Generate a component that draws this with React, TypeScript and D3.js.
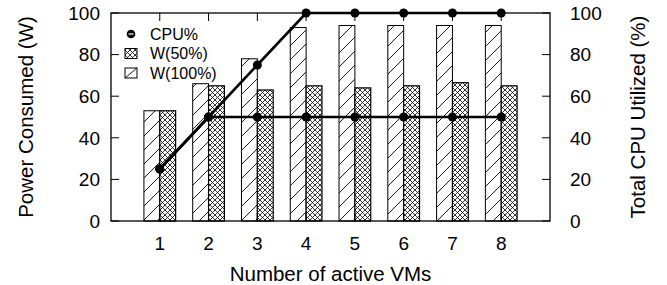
import React, { useRef, useEffect } from 'react';
import * as d3 from 'd3';

// number of active VMs on the x axis
const vmCounts = [1, 2, 3, 4, 5, 6, 7, 8];
// power (W) when the VMs run at 100% and 50% load
const power100 = [53, 66, 78, 93, 94, 94, 94, 94];
const power50 = [53, 65, 63, 65, 64, 65, 66.5, 65];
// total CPU utilised (%) for each case
const cpuFull = [25, 50, 75, 100, 100, 100, 100, 100];
const cpuHalf = [25, 50, 50, 50, 50, 50, 50, 50];
const yTicks = [0, 20, 40, 60, 80, 100];

const WIDTH = 667;
const HEIGHT = 285;
const margin = { top: 13, right: 117, bottom: 64, left: 111 };
const FONT = "'Liberation Sans', Arial, Helvetica, sans-serif";

const App: React.FC = () => {
  const svgRef = useRef<SVGSVGElement>(null);

  useEffect(() => {
    if (!svgRef.current) return;
    const svg = d3.select(svgRef.current);
    svg.selectAll('*').remove();

    const x0 = margin.left;
    const x1 = WIDTH - margin.right;
    const y0 = HEIGHT - margin.bottom;
    const y1 = margin.top;

    const x = d3.scaleLinear().domain([0, 9]).range([x0, x1]);
    const yLeft = d3.scaleLinear().domain([0, 100]).range([y0, y1]);
    const yRight = d3.scaleLinear().domain([0, 100]).range([y0, y1]);
    const barW = (x(1) - x(0)) * 0.325;

    // fill patterns
    const defs = svg.append('defs');
    const hatch = defs.append('pattern')
      .attr('id', 'hatch')
      .attr('patternUnits', 'userSpaceOnUse')
      .attr('width', 14)
      .attr('height', 14);
    hatch.append('rect').attr('width', 14).attr('height', 14).attr('fill', '#fff');
    hatch.append('path')
      .attr('d', 'M-1,15 L15,-1 M-8,8 L8,-8 M6,22 L22,6')
      .attr('stroke', '#000')
      .attr('stroke-width', 0.9);

    const cross = defs.append('pattern')
      .attr('id', 'cross')
      .attr('patternUnits', 'userSpaceOnUse')
      .attr('width', 5)
      .attr('height', 5);
    cross.append('rect').attr('width', 5).attr('height', 5).attr('fill', '#fff');
    cross.append('path')
      .attr('d', 'M0,0 L5,5 M0,5 L5,0')
      .attr('stroke', '#000')
      .attr('stroke-width', 0.8);

    const g = svg.append('g');

    // bars: W(100%) left of the tick, W(50%) right of it
    g.selectAll('rect.w100')
      .data(vmCounts)
      .enter()
      .append('rect')
      .attr('class', 'w100')
      .attr('x', (d) => x(d) - barW)
      .attr('y', (_, i) => yLeft(power100[i]))
      .attr('width', barW)
      .attr('height', (_, i) => y0 - yLeft(power100[i]))
      .attr('fill', 'url(#hatch)')
      .attr('stroke', '#000')
      .attr('stroke-width', 1);

    g.selectAll('rect.w50')
      .data(vmCounts)
      .enter()
      .append('rect')
      .attr('class', 'w50')
      .attr('x', (d) => x(d))
      .attr('y', (_, i) => yLeft(power50[i]))
      .attr('width', barW)
      .attr('height', (_, i) => y0 - yLeft(power50[i]))
      .attr('fill', 'url(#cross)')
      .attr('stroke', '#000')
      .attr('stroke-width', 1.2);

    // frame
    g.append('rect')
      .attr('x', x0)
      .attr('y', y1)
      .attr('width', x1 - x0)
      .attr('height', y0 - y1)
      .attr('fill', 'none')
      .attr('stroke', '#000')
      .attr('stroke-width', 1.3);

    // ticks
    const tickLen = 8;
    yTicks.forEach((t) => {
      g.append('line')
        .attr('x1', x0).attr('x2', x0 + tickLen)
        .attr('y1', yLeft(t)).attr('y2', yLeft(t))
        .attr('stroke', '#000').attr('stroke-width', 1);
      g.append('line')
        .attr('x1', x1 - tickLen).attr('x2', x1)
        .attr('y1', yRight(t)).attr('y2', yRight(t))
        .attr('stroke', '#000').attr('stroke-width', 1);
      g.append('text')
        .attr('x', x0 - 11)
        .attr('y', yLeft(t))
        .attr('dy', '0.36em')
        .attr('text-anchor', 'end')
        .attr('font-family', FONT)
        .attr('font-size', 19)
        .text(t);
      g.append('text')
        .attr('x', x1 + 20)
        .attr('y', yRight(t))
        .attr('dy', '0.36em')
        .attr('text-anchor', 'start')
        .attr('font-family', FONT)
        .attr('font-size', 19)
        .text(t);
    });
    vmCounts.forEach((v) => {
      g.append('line')
        .attr('x1', x(v)).attr('x2', x(v))
        .attr('y1', y1).attr('y2', y1 + tickLen)
        .attr('stroke', '#000').attr('stroke-width', 1);
      g.append('line')
        .attr('x1', x(v)).attr('x2', x(v))
        .attr('y1', y0).attr('y2', y0 - tickLen)
        .attr('stroke', '#000').attr('stroke-width', 1);
      g.append('text')
        .attr('x', x(v))
        .attr('y', y0 + 22)
        .attr('dy', '0.36em')
        .attr('text-anchor', 'middle')
        .attr('font-family', FONT)
        .attr('font-size', 19)
        .text(v);
    });

    // CPU% lines on the right axis
    const line = d3.line<number>()
      .x((_, i) => x(vmCounts[i]))
      .y((d) => yRight(d));

    [cpuHalf, cpuFull].forEach((series) => {
      g.append('path')
        .datum(series)
        .attr('d', line)
        .attr('fill', 'none')
        .attr('stroke', '#000')
        .attr('stroke-width', 2.6);
      g.selectAll(null)
        .data(series)
        .enter()
        .append('circle')
        .attr('cx', (_, i) => x(vmCounts[i]))
        .attr('cy', (d) => yRight(d))
        .attr('r', 4.5)
        .attr('fill', '#000');
    });

    // legend
    const legend = g.append('g').attr('font-family', FONT).attr('font-size', 16);
    const lx = 131;
    const rows = [34, 53.5, 73];
    legend.append('circle').attr('cx', lx).attr('cy', rows[0]).attr('r', 4.3).attr('fill', '#000');
    legend.append('line')
      .attr('x1', lx - 2.5).attr('x2', lx + 2.5)
      .attr('y1', rows[0]).attr('y2', rows[0])
      .attr('stroke', '#fff').attr('stroke-width', 1.2);
    legend.append('rect')
      .attr('x', lx - 6).attr('y', rows[1] - 5)
      .attr('width', 12).attr('height', 10)
      .attr('fill', 'url(#cross)').attr('stroke', '#000').attr('stroke-width', 1);
    legend.append('rect')
      .attr('x', lx - 6).attr('y', rows[2] - 5)
      .attr('width', 12).attr('height', 10)
      .attr('fill', '#fff').attr('stroke', '#000').attr('stroke-width', 1);
    legend.append('line')
      .attr('x1', lx - 6).attr('y1', rows[2] + 5)
      .attr('x2', lx + 6).attr('y2', rows[2] - 5)
      .attr('stroke', '#000').attr('stroke-width', 0.9);
    ['CPU%', 'W(50%)', 'W(100%)'].forEach((label, i) => {
      legend.append('text')
        .attr('x', 150)
        .attr('y', rows[i])
        .attr('dy', '0.36em')
        .text(label);
    });

    // axis titles
    svg.append('text')
      .attr('transform', `translate(26, ${(y0 + y1) / 2}) rotate(-90)`)
      .attr('dy', '0.36em')
      .attr('text-anchor', 'middle')
      .attr('font-family', FONT)
      .attr('font-size', 20.5)
      .text('Power Consumed (W)');
    svg.append('text')
      .attr('transform', `translate(638, ${(y0 + y1) / 2}) rotate(-90)`)
      .attr('dy', '0.36em')
      .attr('text-anchor', 'middle')
      .attr('font-family', FONT)
      .attr('font-size', 20.5)
      .text('Total CPU Utilized (%)');
    svg.append('text')
      .attr('x', (x0 + x1) / 2)
      .attr('y', 274)
      .attr('dy', '0.36em')
      .attr('text-anchor', 'middle')
      .attr('font-family', FONT)
      .attr('font-size', 20.5)
      .text('Number of active VMs');
  }, []);

  return (
    <svg
      ref={svgRef}
      width={WIDTH}
      height={HEIGHT}
      style={{ position: 'absolute', left: 0, top: 0, background: '#fff' }}
    />
  );
};

export default App;
